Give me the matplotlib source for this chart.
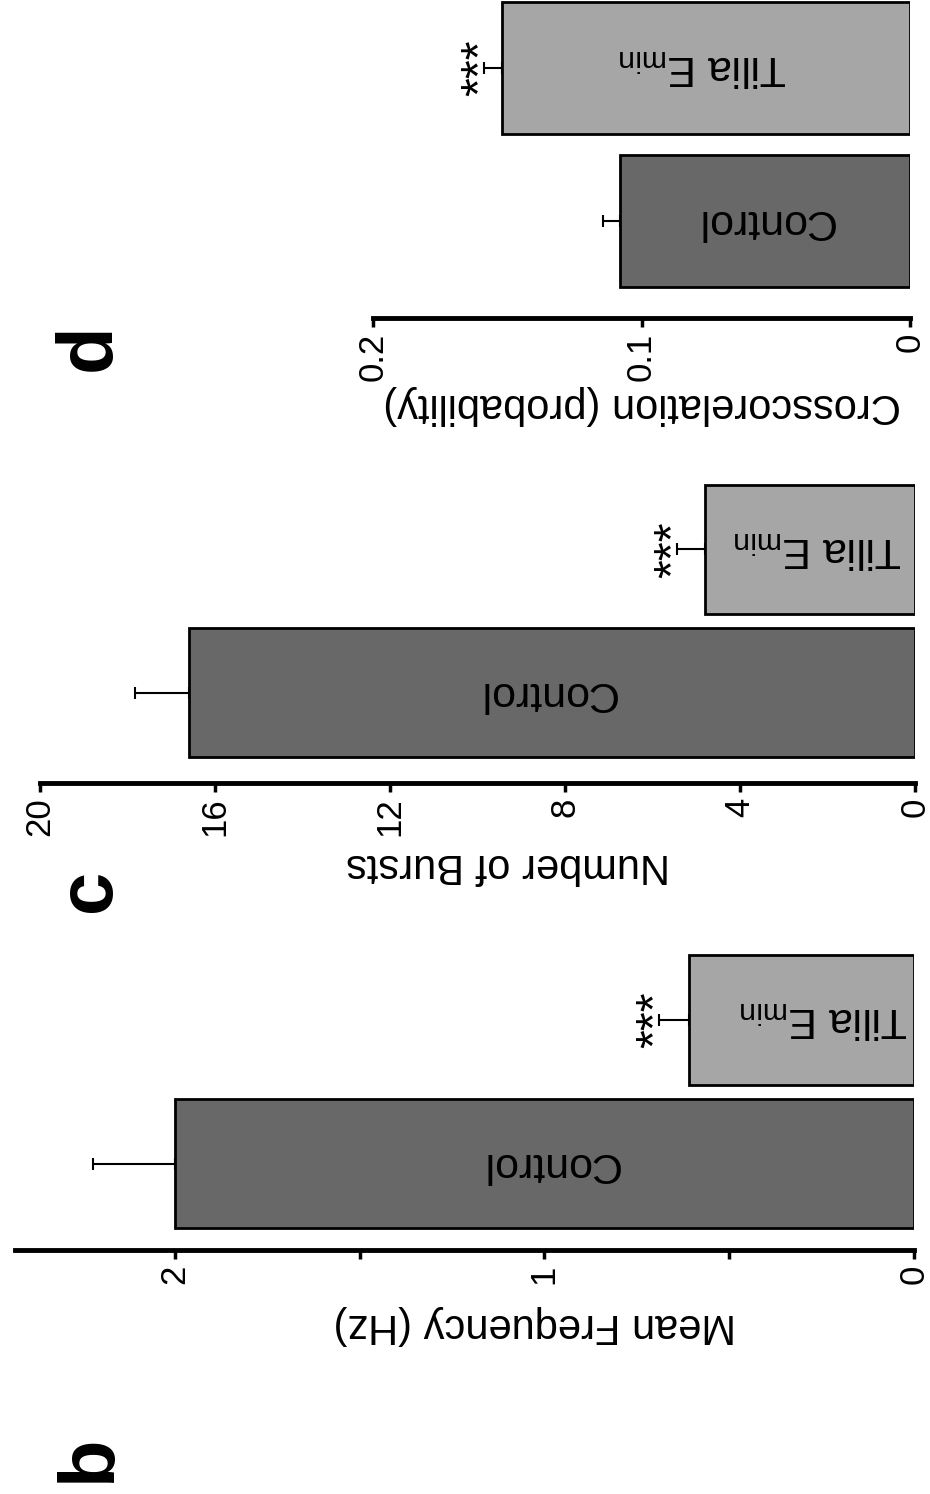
import matplotlib
matplotlib.use('Agg')
import matplotlib.pyplot as plt
import numpy as np

plt.rcParams['font.family'] = ['Liberation Sans', 'DejaVu Sans']
plt.rcParams['mathtext.default'] = 'regular'

# figure size in pixels, the chart is stored rotated by 90 degrees
W, H = 930, 1494

groups = ['Control', r'Tilia E$_{min}$']
stars = ['', '***']

freq = [2.0, 0.61]
freq_err = [0.22, 0.08]
freq_ticks = [0, 1, 2]
freq_minor = [0.5, 1.5]

bursts = [16.6, 4.8]
bursts_err = [1.23, 0.64]
bursts_ticks = [0, 4, 8, 12, 16, 20]

xcorr = [0.108, 0.152]
xcorr_err = [0.0065, 0.0068]
xcorr_ticks = [0, 0.1, 0.2]

bar_colors = ['#686868', '#a6a6a6']

fig = plt.figure(figsize=(W / 100, H / 100), dpi=100)


def fpos(x, y):
    # pixel position -> figure fraction
    return x / W, 1 - y / H


def panel(box, xmax, ylim, bar_h, vals, errs, ticks, ticklabels,
          label_dx=(0, 0), minor=None):
    l, r, t, b = box
    ax = fig.add_axes([l / W, 1 - b / H, (r - l) / W, (b - t) / H])
    y = np.arange(len(vals))
    ax.barh(y, vals, height=bar_h, color=bar_colors, edgecolor='black',
            linewidth=2, zorder=2)
    ax.errorbar(vals, y, xerr=[np.zeros(len(vals)), errs], fmt='none',
                ecolor='black', elinewidth=1.5, capsize=4, capthick=1.5, zorder=3)
    for v, e, yi, name, s, dx in zip(vals, errs, y, groups, stars, label_dx):
        # dx: small nudge in pixels, labels are not exactly centred in the source
        ax.annotate(name, xy=(v / 2, yi), xytext=(dx * 0.72, 0),
                    textcoords='offset points', rotation=180, ha='center',
                    va='center', fontsize=31)
        if s:
            ax.annotate(s, xy=(v + e, yi), xytext=(7, 0), textcoords='offset points',
                        rotation=90, rotation_mode='anchor', ha='center',
                        va='baseline', fontsize=35)
    ax.set_xlim(xmax, 0)
    ax.set_ylim(*ylim)
    ax.set_xticks(ticks)
    ax.set_xticklabels(ticklabels, rotation=90, fontsize=25)
    if minor:
        ax.set_xticks(minor, minor=True)
    ax.tick_params(axis='x', which='both', direction='out', length=6.5,
                   width=2.5, pad=4)
    ax.set_yticks([])
    for side in ['left', 'right', 'top']:
        ax.spines[side].set_visible(False)
    ax.spines['bottom'].set_linewidth(3.5)
    ax.patch.set_visible(False)
    return ax


# panel b
panel((15, 914, 945, 1250), 2.432, (-0.6, 1.52), 0.9, freq, freq_err,
      freq_ticks, ['0', '1', '2'], label_dx=(5, 22), minor=freq_minor)
# panel c
panel((40, 915, 475, 783), 20, (-0.63, 1.52), 0.9, bursts, bursts_err,
      bursts_ticks, [str(t) for t in bursts_ticks], label_dx=(-5, 8))
# panel d
panel((373, 910, 0, 318), 0.2, (-0.63, 1.44), 0.86, xcorr, xcorr_err,
      xcorr_ticks, ['0', '0.1', '0.2'], label_dx=(0, -3))

# axis titles (upside down)
fig.text(*fpos(535, 1325), 'Mean Frequency (Hz)', rotation=180, ha='center',
         va='center', fontsize=30)
fig.text(*fpos(508, 865), 'Number of Bursts', rotation=180, ha='center',
         va='center', fontsize=30)
fig.text(*fpos(642, 405), 'Crosscorelation (probability)', rotation=180,
         ha='center', va='center', fontsize=30)

# panel letters
for letter, yy in [('b', 1458), ('c', 890), ('d', 347)]:
    fig.text(*fpos(110, yy), letter, rotation=90, rotation_mode='anchor',
             ha='center', va='baseline', fontsize=56, fontweight='bold')

fig.savefig('out.png', dpi=100)
